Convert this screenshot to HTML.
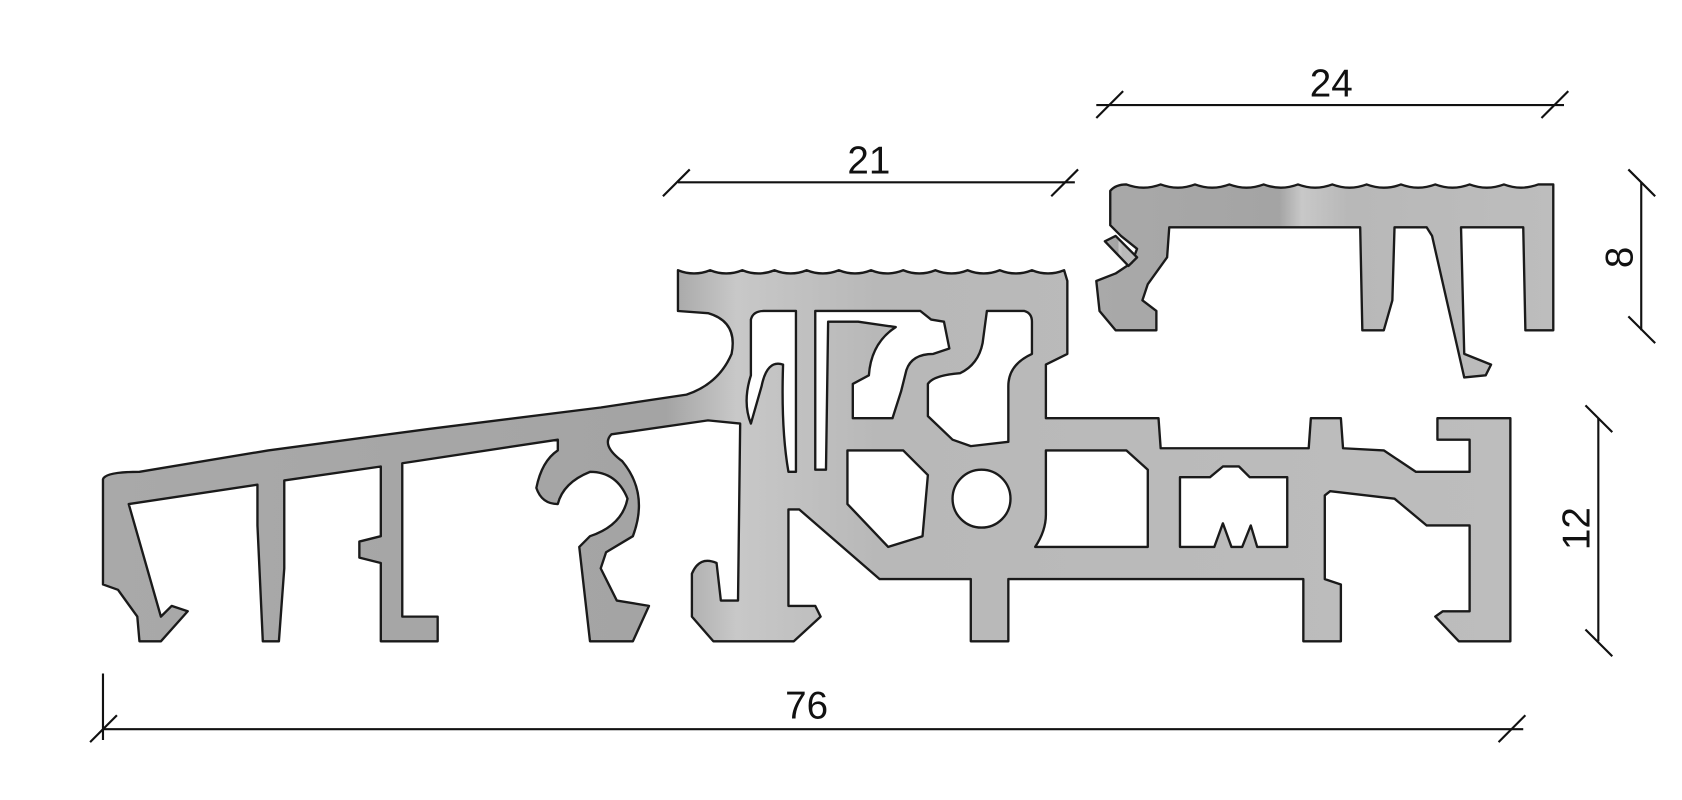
<!DOCTYPE html>
<html><head><meta charset="utf-8"><style>html,body{margin:0;padding:0;background:#fff}svg{display:block}</style></head><body>
<svg width="1682" height="800" viewBox="0 0 1568 746" preserveAspectRatio="none" xmlns="http://www.w3.org/2000/svg">
<defs><linearGradient id="g" x1="0" y1="0" x2="1" y2="0">
<stop offset="0" stop-color="#a9a9a9"/><stop offset="0.4" stop-color="#a4a4a4"/><stop offset="0.45" stop-color="#c8c8c8"/><stop offset="0.55" stop-color="#b8b8b8"/><stop offset="1" stop-color="#bdbdbd"/></linearGradient></defs>
<g stroke="#1a1a1a" stroke-width="2.2" stroke-linejoin="round" fill="url(#g)">
<!-- main profile -->
<path d="M96,447 Q98,440 130,440 L250,420 L400,400 L560,380 L640,368 Q670,358 682,330 Q688,300 660,292 L632,290 L632,252
q15,6 30,0 q15,6 30,0 q15,6 30,0 q15,6 30,0 q15,6 30,0 q15,6 30,0 q15,6 30,0 q15,6 30,0 q15,6 30,0 q15,6 30,0 q15,6 30,0 q15,6 30,0
L995,262 L995,330 L975,340 L975,390 L1080,390 L1082,418 L1220,418 L1222,390 L1250,390 L1252,418 L1290,420 L1320,440 L1370,440 L1370,410 L1340,410 L1340,390 L1408,390 L1408,598 L1360,598 L1338,575 L1345,570 L1370,570 L1370,490 L1330,490 L1300,465 L1240,458 L1235,462 L1235,540 L1250,545 L1250,598 L1215,598 L1215,540 L940,540 L940,598 L905,598 L905,540 L820,540 L745,475 L735,475 L735,565 L760,565 L765,575 L740,598 L665,598 L645,575 L645,535 Q652,518 668,525 L672,560 L688,560 L690,395 L660,392 L570,405 Q560,415 580,430 Q605,460 590,500 L565,515 L560,530 L575,560 L605,565 L590,598 L550,598 L540,510 L550,500 Q580,490 585,465 Q575,440 550,440 Q525,450 520,470 Q505,470 500,455 Q505,430 520,420 L520,410 L375,432 L375,575 L408,575 L408,598 L355,598 L355,525 L335,520 L335,505 L355,500 L355,435 L265,448 L265,530 L260,598 L245,598 L240,490 L240,452 L120,470 L150,575 L160,565 L175,570 L150,598 L130,598 L128,575 L110,550 L96,545 Z"/>
<!-- top right profile -->
<path d="M1035,178 Q1040,172 1050,172 q16,6 32,0 q16,6 32,0 q16,6 32,0 q16,6 32,0 q16,6 32,0 q16,6 32,0 q16,6 32,0 q16,6 32,0 q16,6 32,0 q16,6 32,0 q16,6 32,0 q16,6 32,0 L1448,172 L1448,308 L1422,308 L1420,212 L1362,212 L1365,330 L1390,340 L1385,350 L1365,352 L1335,220 L1330,212 L1300,212 L1298,280 L1290,308 L1270,308 L1268,212 L1090,212 L1088,240 L1070,265 L1065,280 L1078,290 L1078,308 L1040,308 L1025,290 L1022,262 L1040,255 L1055,245 L1060,232 L1045,220 L1035,210 Z"/>
<path d="M1030,225 L1040,220 L1060,240 L1052,248 Z"/>
</g>
<!-- holes -->
<g stroke="#1a1a1a" stroke-width="2.2" stroke-linejoin="round" fill="#fff">
<path d="M700,298 Q702,290 712,290 L742,290 L742,440 L735,440 Q728,400 730,340 Q715,335 710,360 L700,395 Q692,375 700,350 Z"/>
<path d="M760,290 L858,290 L868,298 L880,300 L885,325 L870,330 Q850,330 845,345 L840,365 L832,390 L795,390 L795,358 L810,350 Q812,320 835,305 L800,300 L772,300 L770,438 L760,438 Z"/>
<path d="M920,290 L955,290 Q962,292 962,300 L962,330 Q940,340 940,360 L940,412 L905,416 L888,410 L865,388 L865,358 Q870,350 895,348 Q912,340 916,320 Z"/>
<path d="M790,420 L842,420 L865,443 L860,500 L828,510 L790,470 Z"/>
<circle cx="915" cy="465" r="27"/>
<path d="M975,420 L1050,420 L1070,438 L1070,510 L965,510 Q975,495 975,480 Z"/>
<path d="M1100,445 L1128,445 L1140,435 L1155,435 L1165,445 L1200,445 L1200,510 L1172,510 L1166,490 L1158,510 L1148,510 L1140,488 L1132,510 L1100,510 Z"/>
</g>
<!-- dimensions -->
<g stroke="#111" stroke-width="2" fill="none">
<line x1="632" y1="170" x2="1002" y2="170"/><line x1="618" y1="183" x2="643" y2="158"/><line x1="980" y1="183" x2="1005" y2="158"/>
<line x1="1022" y1="98" x2="1458" y2="98"/><line x1="1022" y1="110" x2="1047" y2="85"/><line x1="1437" y1="110" x2="1462" y2="85"/>
<line x1="1530" y1="170" x2="1530" y2="308"/><line x1="1518" y1="158" x2="1543" y2="183"/><line x1="1518" y1="295" x2="1543" y2="320"/>
<line x1="1490" y1="390" x2="1490" y2="598"/><line x1="1478" y1="378" x2="1503" y2="403"/><line x1="1478" y1="587" x2="1503" y2="612"/>
<line x1="96" y1="680" x2="1420" y2="680"/><line x1="96" y1="628" x2="96" y2="690"/><line x1="84" y1="692" x2="109" y2="667"/><line x1="1397" y1="692" x2="1422" y2="667"/>
</g>
<g font-family="Liberation Sans, sans-serif" font-size="36" fill="#111" text-anchor="middle">
<text x="810" y="162">21</text>
<text x="1241" y="90">24</text>
<text x="752" y="670">76</text>
<text transform="translate(1522,240) rotate(-90)">8</text>
<text transform="translate(1482,493) rotate(-90)">12</text>
</g>
</svg>
</body></html>
